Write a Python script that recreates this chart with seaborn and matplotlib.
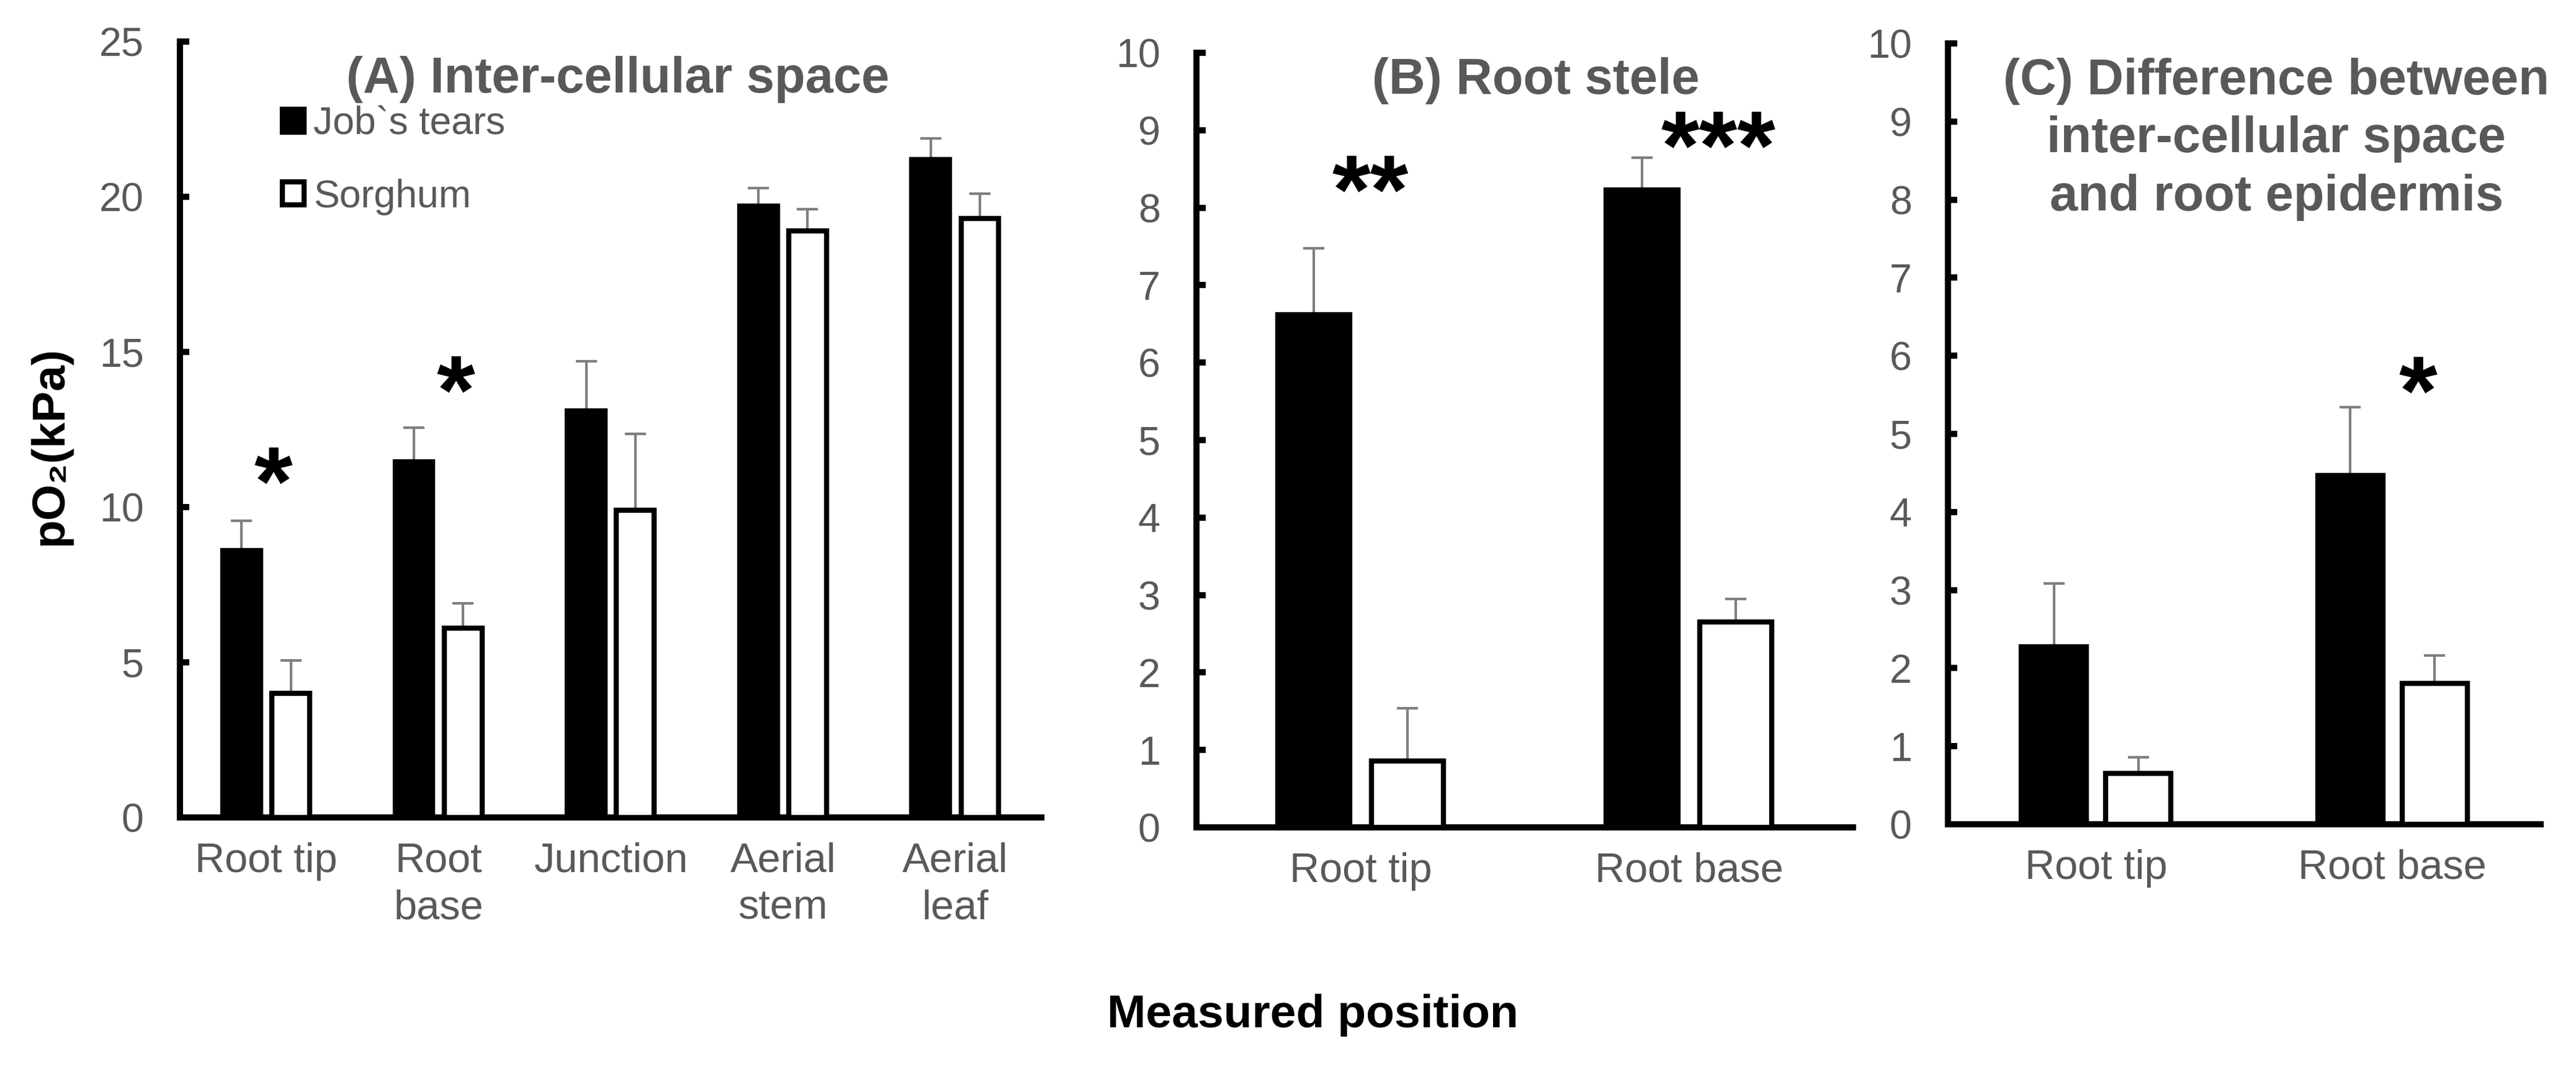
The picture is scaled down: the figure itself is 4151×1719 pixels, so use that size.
import numpy as np
import pandas as pd
import matplotlib
matplotlib.use('Agg')
import matplotlib.pyplot as plt
import seaborn as sns

species = ['Job`s tears', 'Sorghum']

# (A) inter-cellular space
pos_a = ['Root tip', 'Root\nbase', 'Junction', 'Aerial\nstem', 'Aerial\nleaf']
job_a = [8.6, 11.45, 13.1, 19.7, 21.2]
job_a_err = [0.95, 1.1, 1.6, 0.57, 0.68]
sor_a = [4.0, 6.1, 9.9, 18.9, 19.3]
sor_a_err = [1.05, 0.8, 2.45, 0.7, 0.8]
stars_a = ['*', '*']

# (B) root stele
pos_b = ['Root tip', 'Root base']
job_b = [6.62, 8.23]
job_b_err = [0.86, 0.42]
sor_b = [0.86, 2.65]
sor_b_err = [0.68, 0.30]
stars_b = ['**', '***']

# (C) difference between inter-cellular space and root epidermis
pos_c = ['Root tip', 'Root base']
job_c = [2.27, 4.47]
job_c_err = [0.81, 0.87]
sor_c = [0.65, 1.80]
sor_c_err = [0.21, 0.36]
stars_c = ['*']

GREY = '#595959'
ERR = '#7f7f7f'

sns.set_style('ticks')
plt.rcParams['font.family'] = ['Liberation Sans', 'DejaVu Sans']


def make_df(pos, job, sor):
    return pd.DataFrame({
        'position': pos * 2,
        'species': [species[0]] * len(pos) + [species[1]] * len(pos),
        'pO2': job + sor,
    })


def draw_panel(ax, pos, job, job_err, sor, sor_err, ymax, legend=False):
    df = make_df(pos, job, sor)
    sns.barplot(data=df, x='position', y='pO2', hue='species', order=pos, hue_order=species,
                palette={species[0]: 'black', species[1]: 'white'}, saturation=1,
                edgecolor='black', linewidth=2.0, width=0.57, gap=0.23,
                errorbar=None, legend=legend, ax=ax, zorder=3)
    # upper error bars only
    for cont, err in zip(ax.containers, [job_err, sor_err]):
        xs = [p.get_x() + p.get_width() / 2 for p in cont]
        ys = [p.get_height() for p in cont]
        ax.errorbar(xs, ys, yerr=[np.zeros(len(err)), err], fmt='none', ecolor=ERR,
                    elinewidth=1.0, capsize=4, capthick=1.0, zorder=2)
    ax.set_xlim(-0.5, len(pos) - 0.5)
    ax.set_ylim(0, ymax)
    ax.set_xlabel('')
    ax.set_ylabel('')
    sns.despine(ax=ax)
    for s in ['left', 'bottom']:
        ax.spines[s].set_linewidth(2.4)
        ax.spines[s].set_color('black')
    ax.tick_params(axis='y', direction='in', length=3.6, width=2.4, pad=14,
                   labelsize=15.5, labelcolor=GREY, color='black')
    ax.tick_params(axis='x', length=0, pad=9.5, labelsize=16, labelcolor=GREY)
    plt.setp(ax.get_xticklabels(), linespacing=1.3)


def add_stars(ax, labels, xy):
    fs = 38
    for lab, (x, y) in zip(labels, xy):
        ax.annotate(lab, xy=(x, y), xytext=(0, -0.48 * fs), textcoords='offset points',
                    ha='center', va='baseline', fontsize=fs, fontweight='bold', color='black')


fig = plt.figure(figsize=(4151 / 300, 1719 / 300), dpi=300)
ax_a = fig.add_axes([0.0699, 0.2339, 0.3344, 0.7272])
ax_b = fig.add_axes([0.4645, 0.2245, 0.2549, 0.7260])
ax_c = fig.add_axes([0.7562, 0.2275, 0.2301, 0.7318])

draw_panel(ax_a, pos_a, job_a, job_a_err, sor_a, sor_a_err, 25, legend=True)
ax_a.set_yticks(range(0, 26, 5))
draw_panel(ax_b, pos_b, job_b, job_b_err, sor_b, sor_b_err, 10)
ax_b.set_yticks(range(0, 11))
draw_panel(ax_c, pos_c, job_c, job_c_err, sor_c, sor_c_err, 10)
ax_c.set_yticks(range(0, 11))

sns.move_legend(ax_a, 'upper left', bbox_to_anchor=(0.119, 0.917), frameon=False, title=None,
                fontsize=15, labelcolor=GREY, handlelength=0.55, handleheight=0.55,
                handletextpad=0.25, labelspacing=0.93, borderpad=0, borderaxespad=0)

add_stars(ax_a, stars_a, [(0.04, 11.28), (1.1, 14.22)])
add_stars(ax_b, stars_b, [(0.03, 8.41), (1.09, 8.98)])
add_stars(ax_c, stars_c, [(1.085, 5.73)])

title_kw = dict(ha='center', va='baseline', fontsize=19.5, fontweight='bold', color=GREY)
ax_a.text(0.508, 0.934, '(A) Inter-cellular space', transform=ax_a.transAxes, **title_kw)
ax_b.text(0.517, 0.947, '(B) Root stele', transform=ax_b.transAxes, **title_kw)
ax_c.text(0.554, 0.786, '(C) Difference between\ninter-cellular space\nand root epidermis',
          transform=ax_c.transAxes, linespacing=1.3, multialignment='center', **title_kw)

fig.text(0.0193, 0.582, 'pO\u2082(kPa)', rotation=90, ha='center', va='center',
         fontsize=18, fontweight='bold', color='black')
fig.text(0.5095, 0.0372, 'Measured position', ha='center', va='baseline',
         fontsize=18, fontweight='bold', color='black')

fig.savefig('out.png', dpi=300, facecolor='white')
